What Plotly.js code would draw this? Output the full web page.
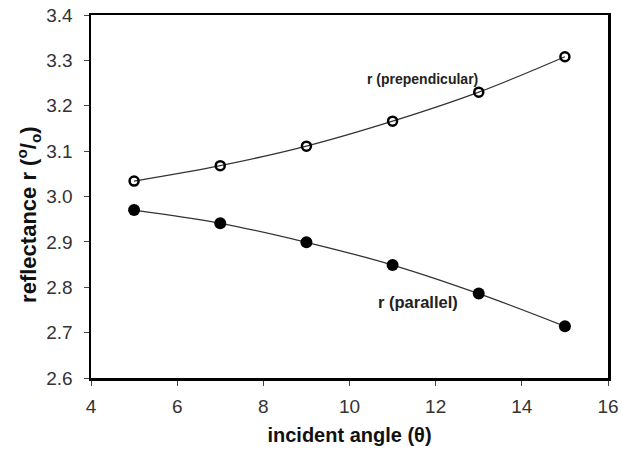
<!DOCTYPE html>
<html><head><meta charset="utf-8">
<script src="https://cdn.plot.ly/plotly-3.0.1.min.js"></script>
<style>html,body{margin:0;padding:0;background:#fff;}</style>
</head><body>
<div id="chart" style="width:621px;height:457px;"></div>
<script>
const angles = [5, 7, 9, 11, 13, 15];
const rPerp = [3.034, 3.068, 3.111, 3.166, 3.230, 3.308];
const rPar = [2.970, 2.941, 2.899, 2.849, 2.786, 2.714];
const xTicks = [4, 6, 8, 10, 12, 14, 16];
const yTicks = [2.6, 2.7, 2.8, 2.9, 3.0, 3.1, 3.2, 3.3, 3.4];

const traces = [
  {x: angles, y: rPerp, mode: 'lines+markers', type: 'scatter',
   line: {shape: 'spline', color: '#333', width: 1.3},
   marker: {symbol: 'circle-open', size: 9, color: '#000', line: {width: 2.5, color: '#000'}},
   cliponaxis: false},
  {x: angles, y: rPar, mode: 'lines+markers', type: 'scatter',
   line: {shape: 'spline', color: '#333', width: 1.3},
   marker: {symbol: 'circle', size: 12, color: '#000'},
   cliponaxis: false}
];
const layout = {
  width: 621, height: 457,
  margin: {l: 91, r: 13, t: 15, b: 79},
  paper_bgcolor: '#fff', plot_bgcolor: '#fff',
  showlegend: false,
  font: {family: 'Liberation Sans, Arial, sans-serif', color: '#222'},
  xaxis: {range: [4, 16], tickvals: xTicks, ticktext: xTicks.map(String),
    showgrid: false, zeroline: false, showline: true, linecolor: '#000', linewidth: 2.5,
    mirror: true, ticks: 'outside', ticklen: 5, tickcolor: '#444', tickwidth: 1,
    ticklabelstandoff: 5,
    tickfont: {size: 19, color: '#333'},
    title: {text: '<b>incident angle (θ)</b>', font: {size: 20, color: '#111'}, standoff: 12}},
  yaxis: {range: [2.6, 3.4], tickvals: yTicks, ticktext: yTicks.map(v => v.toFixed(1)),
    showgrid: false, zeroline: false, showline: true, linecolor: '#000', linewidth: 2.5,
    mirror: true, ticks: 'outside', ticklen: 5, tickcolor: '#444', tickwidth: 1,
    ticklabelstandoff: 7,
    tickfont: {size: 19, color: '#333'}},
  annotations: [
    {x: -0.12, y: 0.452, xref: 'paper', yref: 'paper', textangle: -90,
     text: '<b>reflectance r (<sup>o</sup>/<sub>o</sub>)</b>', showarrow: false,
     xanchor: 'center', yanchor: 'middle', font: {size: 22, color: '#111'}},
    {x: 11.70, y: 3.259, xref: 'x', yref: 'y', text: '<b>r (prependicular)</b>', showarrow: false,
     font: {size: 14, color: '#222'}},
    {x: 11.58, y: 2.768, xref: 'x', yref: 'y', text: '<b>r (parallel)</b>', showarrow: false,
     font: {size: 16.5, color: '#222'}}
  ]
};
Plotly.newPlot('chart', traces, layout, {displayModeBar: false, staticPlot: true});
</script>
</body></html>
